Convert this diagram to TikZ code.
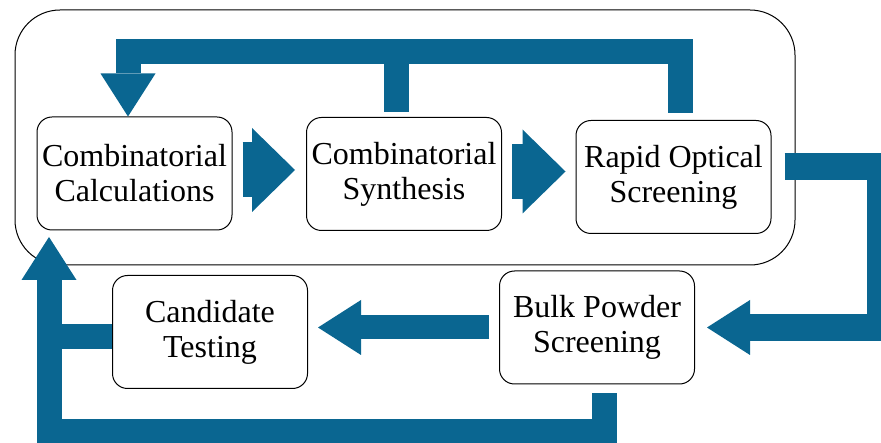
\documentclass[tikz,border=0pt]{standalone}
\usepackage{fontspec}
\setmainfont{Liberation Serif}
\usepackage{tikz}
\usetikzlibrary{arrows.meta}
\definecolor{loopblue}{RGB}{10,102,145}
\tikzstyle{stagebox} = [rectangle, rounded corners=15pt, minimum width=195pt, 
    minimum height=113pt, text centered, align=center, draw=black, line width=1pt,
    fill=white, font=\fontsize{32}{35}\selectfont]
\tikzstyle{loopframe} = [rectangle, rounded corners=45pt, minimum width=780pt,
    minimum height=255pt, draw=black, line width=1pt]
\tikzstyle{bandarrow} = [draw=loopblue, line width=25pt,
    -{Triangle[width=55pt, length=43pt, line width=0pt]}]
\tikzstyle{bandline} = [draw=loopblue, line width=25pt]
\tikzstyle{fatarrow} = [draw=loopblue, line width=55pt,
    -{Triangle[width=84pt, length=43pt, line width=0pt]}]

\begin{document}
\begin{tikzpicture}[node distance=269.5pt, x=1pt, y=1pt]
    \useasboundingbox (0,0) rectangle (881,-443);
    \clip (0,0) rectangle (881,-443);

    % screening loop
    \node (ScreenLoop) [loopframe] at (405,-137.5) {};

    % top row nodes
    \node (CombCalc) [stagebox] at (134.5,-173.5) {Combinatorial\\Calculations};
    \node (CombSynth) [stagebox, right of=CombCalc, yshift=-0.5pt] {Combinatorial\\Synthesis};
    \node (RapidOpt) [stagebox, right of=CombSynth, yshift=-3pt] {Rapid Optical\\Screening};

    % bottom row nodes
    \node (BulkPowder) [stagebox] at (597,-327.5) {Bulk Powder\\Screening};
    \node (CandTest) [stagebox] at (210,-332) {Candidate\\Testing};

    \coordinate (TopLeft) at (128,-52);
    \coordinate (RightTop) at (880,-167);
    \coordinate (BotLeft) at (49,-432);
    \coordinate (LoopTip) at (49,-237);

    % arrows
    \draw [fatarrow, shorten <=10pt, shorten >=11pt] ([yshift=3.5pt]CombCalc.east) -- ([yshift=3.5pt]CombCalc.east -| CombSynth.west);
    \draw [fatarrow, shorten <=10pt, shorten >=10pt] ([yshift=2.5pt]CombSynth.east) -- ([yshift=2.5pt]CombSynth.east -| RapidOpt.west);

    \draw [bandline, shorten <=5pt] ([xshift=-8pt]CombSynth.north) -- ([xshift=-8pt]CombSynth.north |- TopLeft);
    \draw [bandarrow, shorten <=7pt] ([xshift=6.5pt]RapidOpt.north) |- (TopLeft) -- ([xshift=-6.5pt]CombCalc.north);

    \draw [bandarrow, line width=27pt, shorten <=13pt, shorten >=12pt] ([yshift=10pt]RapidOpt.east) -- (RightTop) |- (BulkPowder.east);
    \draw [bandarrow, line width=24pt, shorten <=10pt, shorten >=10pt] (BulkPowder.west) -- (BulkPowder.west -| CandTest.east);

    \draw [bandline] ([yshift=-5pt]CandTest.west) -- ([yshift=-5pt]CandTest.west -| LoopTip);
    \draw [bandarrow, shorten <=9pt] ([xshift=7pt]BulkPowder.south) |- (BotLeft) -- (LoopTip);
\end{tikzpicture}
\end{document}
